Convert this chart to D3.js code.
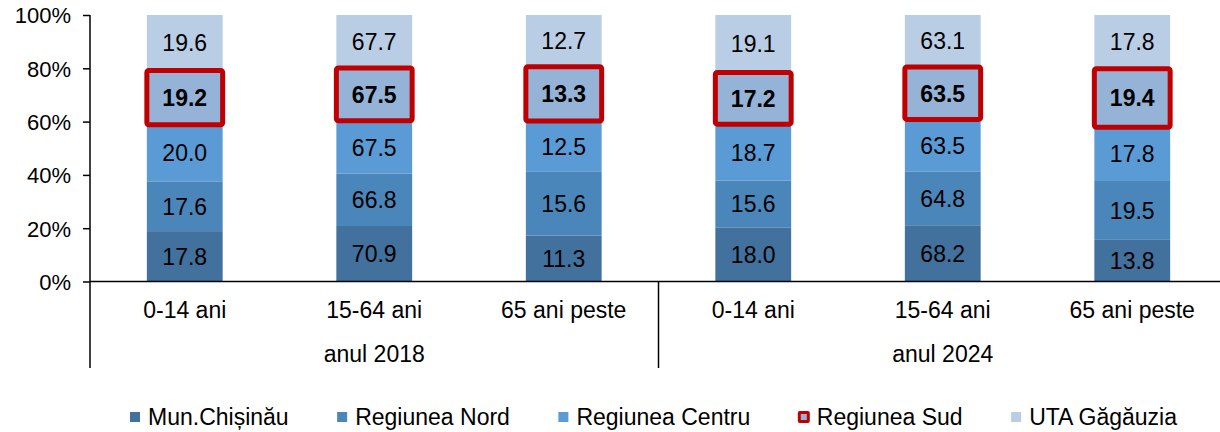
<!DOCTYPE html>
<html>
<head>
<meta charset="utf-8">
<script src="https://cdn.jsdelivr.net/npm/d3@7"></script>
<style>
  body { margin: 0; background: #fff; }
  text { font-family: "Liberation Sans", Arial, sans-serif; fill: #000; }
</style>
</head>
<body>
<div id="chart"></div>
<script>
// Data
const groups = ["anul 2018", "anul 2024"];
const ageBands = ["0-14 ani", "15-64 ani", "65 ani peste"];
const seriesNames = ["Mun.Chișinău", "Regiunea Nord", "Regiunea Centru", "Regiunea Sud", "UTA Găgăuzia"];
const seriesColors = ["#41719c", "#4a86ba", "#5b9bd5", "#95b3d7", "#b9cde5"];

// one array per series, in order 2018 (0-14, 15-64, 65+), 2024 (0-14, 15-64, 65+)
const chisinau = [17.8, 70.9, 11.3, 18.0, 68.2, 13.8];
const nord     = [17.6, 66.8, 15.6, 15.6, 64.8, 19.5];
const centru   = [20.0, 67.5, 12.5, 18.7, 63.5, 17.8];
const sud      = [19.2, 67.5, 13.3, 17.2, 63.5, 19.4];
const uta      = [19.6, 67.7, 12.7, 19.1, 63.1, 17.8];
const yTicks = [0, 0.2, 0.4, 0.6, 0.8, 1];

const highlightKey = "Regiunea Sud";
const highlightColor = "#c00000";

const W = 1220, H = 432;
const margin = {top: 15, left: 90, bottom: 150};
const plotBottom = H - margin.bottom - 0.5;
const bandW = 189.5;

const svg = d3.select("#chart").append("svg")
  .attr("width", W).attr("height", H);

// build rows for the stack
const cats = [];
groups.forEach(g => ageBands.forEach(a => cats.push(g + "|" + a)));
const seriesData = [chisinau, nord, centru, sud, uta];
const rows = cats.map((c, i) => {
  const r = {cat: c};
  seriesNames.forEach((s, j) => r[s] = seriesData[j][i]);
  return r;
});

const stack = d3.stack().keys(seriesNames).offset(d3.stackOffsetExpand);
const layers = stack(rows);

const x = d3.scaleBand()
  .domain(cats)
  .range([margin.left, margin.left + bandW * cats.length])
  .paddingInner(0.6).paddingOuter(0.3);

const y = d3.scaleLinear().domain([0, 1]).range([plotBottom, margin.top]);

// bars
const layerG = svg.selectAll("g.layer")
  .data(layers)
  .enter().append("g")
    .attr("class", "layer")
    .attr("fill", (d, i) => seriesColors[i]);

layerG.selectAll("rect")
  .data(d => d.map(v => ({v, key: d.key})))
  .enter().append("rect")
    .attr("x", d => x(d.v.data.cat))
    .attr("y", d => y(d.v[1]))
    .attr("width", x.bandwidth())
    .attr("height", d => y(d.v[0]) - y(d.v[1]));

// red box around Regiunea Sud
const sudLayer = layers.find(l => l.key === highlightKey);
svg.append("g").selectAll("rect")
  .data(sudLayer)
  .enter().append("rect")
    .attr("x", d => x(d.data.cat))
    .attr("y", d => y(d[1]))
    .attr("width", x.bandwidth())
    .attr("height", d => y(d[0]) - y(d[1]))
    .attr("rx", 2)
    .attr("fill", "none")
    .attr("stroke", highlightColor)
    .attr("stroke-width", 5);

// value labels
layers.forEach(l => {
  svg.append("g").selectAll("text")
    .data(l)
    .enter().append("text")
      .attr("x", d => x(d.data.cat) + x.bandwidth() / 2)
      .attr("y", d => (y(d[0]) + y(d[1])) / 2)
      .attr("dy", "0.36em")
      .attr("text-anchor", "middle")
      .style("font-size", "23px")
      .style("font-weight", l.key === highlightKey ? "bold" : "normal")
      .text(d => d.data[l.key].toFixed(1));
});

// y axis
const yAxis = svg.append("g")
  .attr("transform", `translate(${margin.left},0)`)
  .call(d3.axisLeft(y).tickValues(yTicks).tickFormat(d3.format(".0%")).tickSize(7).tickPadding(12));
yAxis.select(".domain").remove();
yAxis.selectAll("line").attr("stroke", "#000").attr("stroke-width", 1.5);
yAxis.selectAll("text").style("font-size", "22px").attr("dy", "0.36em");

const axisBottomY = 368;
// left axis line, goes down through the category area
svg.append("line")
  .attr("x1", margin.left).attr("x2", margin.left)
  .attr("y1", margin.top).attr("y2", axisBottomY)
  .attr("stroke", "#000").attr("stroke-width", 1.5);

// x axis baseline
svg.append("line")
  .attr("x1", margin.left).attr("x2", W)
  .attr("y1", plotBottom).attr("y2", plotBottom)
  .attr("stroke", "#000").attr("stroke-width", 1.5);

// group separators
const groupStarts = groups.map((g, i) => margin.left + bandW * ageBands.length * i);
svg.append("g").selectAll("line")
  .data(groupStarts.slice(1).concat([margin.left + bandW * cats.length]))
  .enter().append("line")
    .attr("x1", d => d).attr("x2", d => d)
    .attr("y1", plotBottom).attr("y2", axisBottomY)
    .attr("stroke", "#000").attr("stroke-width", 1.5);

// category labels
svg.append("g").selectAll("text")
  .data(cats)
  .enter().append("text")
    .attr("x", d => x(d) + x.bandwidth() / 2)
    .attr("y", 318)
    .attr("text-anchor", "middle")
    .style("font-size", "23px")
    .text(d => d.split("|")[1]);

// group labels
svg.append("g").selectAll("text")
  .data(groups)
  .enter().append("text")
    .attr("x", (d, i) => groupStarts[i] + bandW * ageBands.length / 2)
    .attr("y", 362)
    .attr("text-anchor", "middle")
    .style("font-size", "23px")
    .text(d => d);

// legend: spread items between left and right edges of the reference legend
const legend = svg.append("g");
const legendY = 417;
const legendLeft = 130, legendRight = 1177;
const items = seriesNames.map((s, i) => {
  const item = legend.append("g");
  if (s === highlightKey) {
    item.append("rect")
      .attr("x", -1).attr("y", legendY - 6).attr("width", 12).attr("height", 12)
      .attr("rx", 2).attr("fill", highlightColor);
    item.append("rect")
      .attr("x", 2).attr("y", legendY - 3).attr("width", 6).attr("height", 6)
      .attr("fill", seriesColors[i]);
  } else {
    item.append("rect")
      .attr("x", 0).attr("y", legendY - 5).attr("width", 10).attr("height", 10)
      .attr("fill", seriesColors[i]);
  }
  const t = item.append("text")
    .attr("x", 18).attr("y", legendY)
    .attr("dy", "0.36em")
    .style("font-size", "23px")
    .text(s);
  return {item, w: 18 + t.node().getComputedTextLength()};
});
const totalW = d3.sum(items, d => d.w);
const gap = (legendRight - legendLeft - totalW) / (items.length - 1);
let lx = legendLeft;
items.forEach(d => {
  d.item.attr("transform", `translate(${lx},0)`);
  lx += d.w + gap;
});
</script>
</body>
</html>
